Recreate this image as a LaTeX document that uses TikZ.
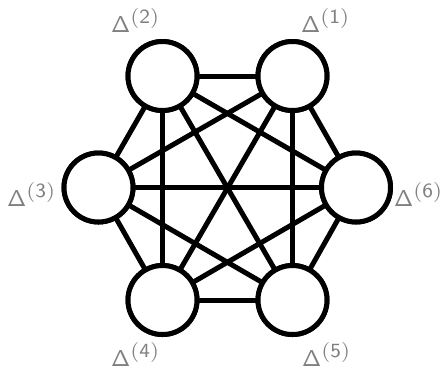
\documentclass[tikz,border=0pt]{standalone}
\usepackage{graphicx}
\newcommand{\dlab}[1]{\scalebox{2.3}{$\mathsf{\Delta}^{\scalebox{1.25}{$\scriptstyle\mathsf{(#1)}$}}$}}
\begin{document}
\begin{tikzpicture}[x=1pt,y=-1pt,
  vert/.style={circle,draw=black,fill=white,line width=5pt,minimum size=69pt,inner sep=0pt},
  edge/.style={line width=5pt,black},
  lab/.style={text=gray,inner sep=0pt,anchor=base west}]
\useasboundingbox (0,0) rectangle (446,368);
\node[vert] (v1) at (292.5,76) {};
\node[vert] (v2) at (162.5,76) {};
\node[vert] (v3) at (98.5,187.5) {};
\node[vert] (v4) at (162.5,300) {};
\node[vert] (v5) at (292.5,300) {};
\node[vert] (v6) at (356,187.5) {};
\foreach \a/\b in {1/2,1/3,1/4,1/5,1/6,2/3,2/4,2/5,2/6,3/4,3/5,3/6,4/5,4/6,5/6}
  \draw[edge] (v\a.center) -- (v\b.center);
\foreach \i in {1,...,6} \node[vert] at (v\i) {};
\node[lab] (l2) at (111,32) {\dlab{2}};
\node[lab] (l1) at (301,32) {\dlab{1}};
\node[lab] (l3) at (7,206) {\dlab{3}};
\node[lab] (l6) at (394,206) {\dlab{6}};
\node[lab] (l4) at (111,366) {\dlab{4}};
\node[lab] (l5) at (302,366) {\dlab{5}};
\end{tikzpicture}
\end{document}
